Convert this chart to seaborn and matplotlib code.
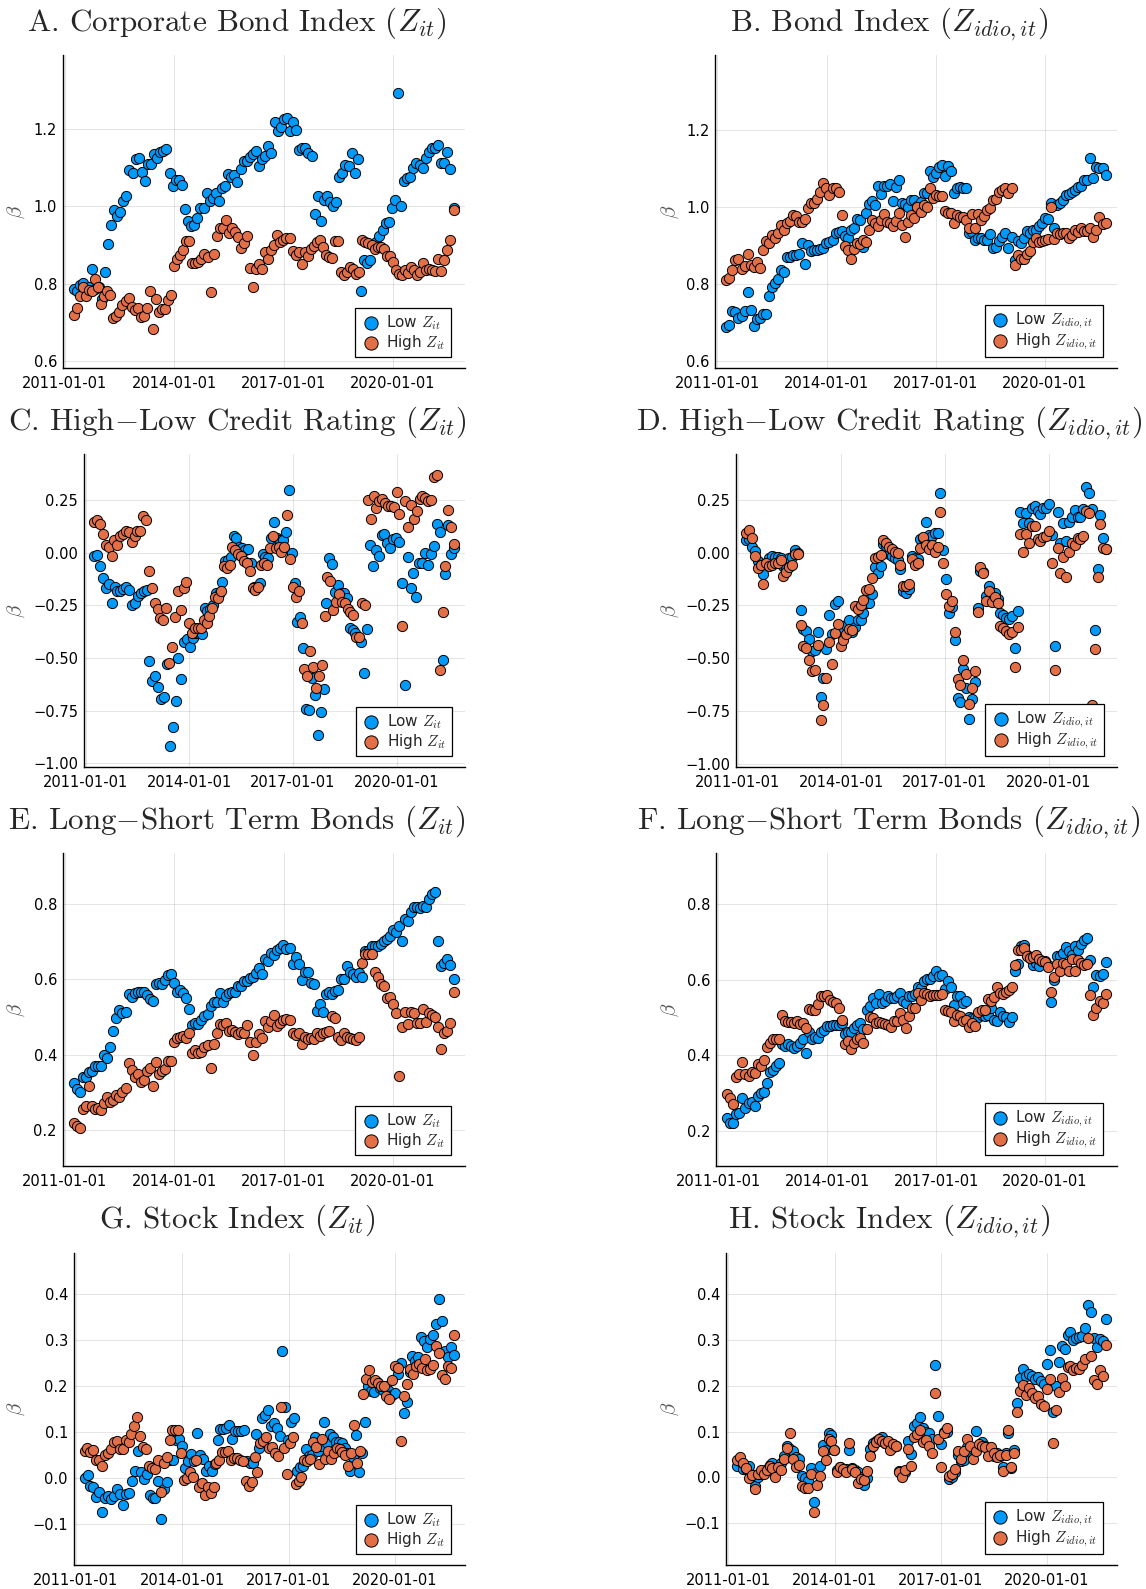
import numpy as np
import pandas as pd
import matplotlib
matplotlib.use("Agg")
import matplotlib.pyplot as plt
import matplotlib.dates as mdates
from matplotlib.ticker import FuncFormatter
import seaborn as sns

sns.set_style("white")
plt.rcParams["font.family"] = ["DejaVu Sans"]
plt.rcParams["mathtext.fontset"] = "cm"

BLUE = "#009AFA"
ORANGE = "#E36F47"
START, END = "2011-04-01", "2021-09-01"

# ---------------- data (beta estimates, monthly) ----------------
a_low = [0.787,0.781,0.796,0.802,0.770,0.791,0.838,0.787,0.791,0.761,
         0.829,0.902,0.953,0.990,0.975,0.986,1.015,1.027,1.094,1.086,
         1.124,1.125,1.089,1.067,1.111,1.110,1.136,1.127,1.142,1.145,
         1.148,1.086,1.054,1.068,1.068,1.055,0.993,0.962,0.950,0.953,
         0.971,0.997,0.997,1.036,1.015,1.021,1.036,1.015,1.047,1.054,
         1.083,1.077,1.082,1.064,1.098,1.117,1.118,1.128,1.136,1.144,
         1.105,1.124,1.132,1.157,1.138,1.219,1.196,1.207,1.227,1.229,
         1.196,1.220,1.198,1.146,1.151,1.151,1.138,1.132,0.980,1.027,
         0.963,1.018,1.027,1.012,1.001,1.012,1.077,1.086,1.107,1.105,
         1.138,1.086,1.122,0.781,0.861,0.854,0.862,0.900,0.908,0.923,
         0.940,0.956,0.960,0.996,1.016,1.294,1.001,1.067,1.075,1.077,
         1.099,1.112,1.107,1.101,1.125,1.142,1.153,1.153,1.159,1.113,
         1.114,1.142,1.097,0.995]
a_high = [0.718,0.737,0.767,0.790,0.767,0.783,0.781,0.812,0.791,0.748,
          0.767,0.781,0.771,0.712,0.715,0.726,0.744,0.755,0.763,0.739,
          0.731,0.737,0.713,0.717,0.737,0.781,0.681,0.761,0.726,0.735,
          0.735,0.757,0.770,0.845,0.865,0.875,0.886,0.910,0.910,0.854,
          0.854,0.855,0.865,0.878,0.869,0.777,0.878,0.923,0.943,0.943,
          0.966,0.932,0.943,0.934,0.921,0.893,0.904,0.923,0.840,0.790,
          0.838,0.850,0.838,0.881,0.863,0.887,0.900,0.926,0.908,0.914,
          0.917,0.919,0.884,0.875,0.882,0.850,0.882,0.872,0.891,0.897,
          0.908,0.913,0.895,0.874,0.868,0.867,0.911,0.911,0.830,0.822,
          0.830,0.843,0.838,0.826,0.830,0.913,0.907,0.906,0.900,0.891,
          0.894,0.894,0.891,0.871,0.871,0.856,0.836,0.826,0.822,0.835,
          0.828,0.843,0.836,0.822,0.830,0.854,0.835,0.838,0.835,0.832,
          0.865,0.833,0.861,0.888,0.913,0.990]

b_low = [0.688,0.694,0.730,0.727,0.713,0.716,0.730,0.778,0.733,0.690,
         0.710,0.712,0.721,0.723,0.768,0.792,0.803,0.814,0.835,0.831,
         0.870,0.870,0.874,0.876,0.879,0.907,0.853,0.902,0.885,0.887,
         0.887,0.892,0.894,0.907,0.909,0.913,0.931,0.935,0.938,0.924,
         0.920,0.939,0.946,0.968,0.965,0.896,0.985,1.007,1.015,1.006,
         1.055,1.033,1.055,1.054,1.059,1.016,1.051,1.069,1.009,1.007,
         1.000,1.019,1.019,1.003,1.013,1.036,1.035,1.093,1.078,1.088,
         1.104,1.108,1.081,1.106,1.094,1.035,1.050,1.052,1.048,1.049,
         0.932,0.935,0.915,0.918,0.920,0.915,0.913,0.929,0.894,0.896,
         0.911,0.922,0.933,0.894,0.922,0.861,0.911,0.907,0.920,0.938,
         0.932,0.939,0.939,0.951,0.958,0.971,0.968,1.009,0.945,1.004,
         1.010,1.019,1.032,1.033,1.039,1.043,1.052,1.055,1.071,1.069,
         1.126,1.076,1.104,1.101,1.100,1.082]
b_high = [0.810,0.816,0.835,0.861,0.866,0.840,0.847,0.879,0.848,0.844,
          0.857,0.842,0.887,0.911,0.906,0.928,0.918,0.931,0.952,0.939,
          0.958,0.963,0.978,0.976,0.961,0.961,0.968,0.996,1.009,1.010,
          1.021,1.039,1.061,1.048,1.030,1.049,1.050,1.039,0.978,0.898,
          0.887,0.866,0.892,0.906,0.903,0.913,0.909,0.941,0.965,0.958,
          0.950,0.965,0.981,0.961,0.957,0.951,0.963,0.985,0.952,0.922,
          0.961,0.978,0.970,1.000,0.986,1.004,1.000,1.049,1.022,1.032,
          1.028,1.029,0.990,0.984,0.983,0.957,0.978,0.974,0.974,0.967,
          0.944,0.981,0.945,0.981,0.965,0.976,0.991,0.996,1.019,1.021,
          1.039,1.043,1.048,1.036,1.049,0.850,0.874,0.864,0.866,0.879,
          0.886,0.909,0.920,0.909,0.911,0.913,0.916,1.000,0.916,0.931,
          0.929,0.931,0.932,0.920,0.928,0.941,0.935,0.946,0.937,0.937,
          0.946,0.922,0.939,0.974,0.955,0.957]

c_low = [-0.013,-0.010,-0.062,-0.118,-0.165,-0.148,-0.240,-0.160,-0.179,-0.179,
         -0.172,-0.160,-0.176,-0.248,-0.240,-0.203,-0.192,-0.179,-0.176,-0.515,
         -0.608,-0.585,-0.637,-0.697,-0.685,-0.529,-0.918,-0.828,-0.705,-0.502,
         -0.602,-0.423,-0.410,-0.446,-0.407,-0.383,-0.383,-0.388,-0.264,-0.276,
         -0.265,-0.248,-0.192,-0.197,-0.137,-0.037,-0.033,-0.021,0.078,0.070,
         0.030,0.022,0.014,0.017,-0.049,-0.160,-0.160,-0.145,-0.005,-0.022,
         -0.025,0.070,0.149,0.070,0.062,0.062,0.098,0.297,-0.002,-0.145,
         -0.327,-0.303,-0.454,-0.740,-0.745,-0.597,-0.677,-0.864,-0.756,-0.645,
         -0.240,-0.025,-0.052,-0.187,-0.152,-0.192,-0.192,-0.216,-0.359,-0.367,
         -0.383,-0.399,-0.423,-0.573,-0.364,0.038,-0.062,0.014,-0.017,0.086,
         0.091,0.046,0.022,0.065,0.070,0.052,-0.145,-0.626,-0.022,-0.168,
         -0.097,-0.208,-0.049,-0.046,-0.002,-0.057,-0.006,0.033,0.138,0.098,
         -0.507,-0.102,0.133,-0.005,0.022]
c_high = [0.149,0.157,0.137,0.089,0.038,0.027,-0.017,0.059,0.038,0.078,
          0.089,0.102,0.097,0.054,0.078,0.106,0.106,0.173,0.157,-0.084,
          -0.168,-0.240,-0.268,-0.308,-0.319,-0.264,-0.523,-0.446,-0.303,-0.181,
          -0.272,-0.165,-0.140,-0.332,-0.383,-0.359,-0.359,-0.359,-0.319,-0.335,
          -0.300,-0.260,-0.208,-0.214,-0.179,-0.062,-0.073,-0.057,0.027,0.014,
          -0.006,-0.017,-0.041,-0.046,-0.084,-0.165,-0.176,-0.164,-0.057,-0.049,
          -0.057,0.025,0.078,0.022,0.030,0.006,0.027,0.178,-0.030,-0.160,
          -0.211,-0.181,-0.335,-0.554,-0.586,-0.465,-0.542,-0.643,-0.586,-0.534,
          -0.299,-0.116,-0.135,-0.272,-0.232,-0.195,-0.232,-0.237,-0.268,-0.283,
          -0.295,-0.402,-0.402,-0.240,-0.248,0.249,0.162,0.268,0.213,0.245,
          0.257,0.237,0.221,0.221,0.216,0.287,0.186,-0.348,0.245,0.122,
          0.229,0.162,0.197,0.257,0.272,0.260,0.245,0.253,0.361,0.370,
          -0.557,-0.283,-0.062,0.202,0.122,0.041]

d_low = [0.060,0.063,0.029,0.008,-0.040,-0.059,-0.103,-0.048,-0.024,-0.016,
         -0.019,-0.019,-0.027,-0.063,-0.071,-0.027,-0.019,0.013,0.000,-0.273,
         -0.362,-0.373,-0.408,-0.465,-0.463,-0.378,-0.686,-0.592,-0.457,-0.294,
         -0.384,-0.241,-0.230,-0.373,-0.368,-0.341,-0.317,-0.378,-0.354,-0.317,
         -0.317,-0.286,-0.238,-0.238,-0.194,-0.067,-0.095,-0.063,0.040,0.032,
         -0.008,-0.016,-0.024,-0.035,-0.079,-0.183,-0.190,-0.171,-0.016,-0.024,
         -0.029,0.067,0.071,0.146,0.083,0.079,0.092,0.092,0.281,0.011,
         -0.124,-0.286,-0.257,-0.416,-0.690,-0.706,-0.552,-0.643,-0.790,-0.695,
         -0.614,-0.262,-0.087,-0.092,-0.206,-0.159,-0.206,-0.190,-0.219,-0.286,
         -0.294,-0.310,-0.313,-0.302,-0.452,-0.275,0.194,0.143,0.190,0.140,
         0.210,0.222,0.198,0.183,0.211,0.214,0.233,0.083,-0.444,0.194,
         0.048,0.143,0.056,0.146,0.171,0.202,0.167,0.171,0.206,0.310,
         0.281,0.206,-0.368,-0.075,0.178,0.068,0.016]
d_high = [0.095,0.108,0.071,-0.016,-0.071,-0.059,-0.146,-0.051,-0.063,-0.060,
          -0.051,-0.048,-0.035,-0.111,-0.092,-0.067,-0.060,-0.008,-0.008,-0.341,
          -0.444,-0.452,-0.511,-0.563,-0.556,-0.437,-0.794,-0.722,-0.595,-0.425,
          -0.529,-0.381,-0.338,-0.440,-0.413,-0.384,-0.360,-0.368,-0.251,-0.267,
          -0.246,-0.225,-0.175,-0.170,-0.119,-0.027,-0.019,-0.013,0.060,0.048,
          0.029,0.016,0.003,0.000,-0.059,-0.159,-0.156,-0.146,-0.029,-0.056,
          -0.051,0.024,0.076,0.035,0.019,0.035,0.005,0.029,0.194,-0.051,
          -0.194,-0.251,-0.230,-0.376,-0.600,-0.627,-0.511,-0.576,-0.717,-0.643,
          -0.559,-0.283,-0.067,-0.095,-0.230,-0.183,-0.235,-0.210,-0.238,-0.349,
          -0.357,-0.373,-0.386,-0.378,-0.540,-0.352,0.090,0.003,0.087,0.048,
          0.127,0.127,0.063,0.056,0.075,0.079,0.103,-0.051,-0.556,0.024,
          -0.095,-0.019,-0.114,0.005,0.048,0.035,0.071,0.063,0.079,0.198,
          0.187,-0.722,-0.457,-0.116,0.138,0.024,0.016]

e_low = [0.325,0.309,0.301,0.340,0.342,0.354,0.358,0.371,0.369,0.370,
         0.400,0.391,0.420,0.463,0.497,0.519,0.510,0.512,0.560,0.554,
         0.563,0.567,0.566,0.566,0.558,0.547,0.543,0.588,0.589,0.588,
         0.598,0.611,0.613,0.591,0.567,0.572,0.563,0.550,0.521,0.479,
         0.483,0.481,0.492,0.503,0.508,0.529,0.539,0.539,0.563,0.539,
         0.556,0.563,0.565,0.565,0.581,0.581,0.594,0.596,0.603,0.607,
         0.616,0.629,0.613,0.654,0.649,0.669,0.664,0.678,0.682,0.691,
         0.679,0.682,0.640,0.658,0.641,0.598,0.618,0.618,0.591,0.588,
         0.517,0.534,0.512,0.561,0.566,0.560,0.570,0.572,0.600,0.601,
         0.635,0.618,0.613,0.605,0.616,0.607,0.675,0.675,0.687,0.688,
         0.687,0.694,0.702,0.707,0.713,0.729,0.726,0.740,0.702,0.760,
         0.753,0.779,0.790,0.791,0.788,0.794,0.792,0.812,0.825,0.832,
         0.702,0.635,0.644,0.654,0.638,0.600]
e_high = [0.220,0.212,0.205,0.256,0.263,0.316,0.263,0.256,0.260,0.254,
          0.272,0.287,0.274,0.280,0.294,0.289,0.301,0.311,0.379,0.360,
          0.342,0.348,0.329,0.332,0.357,0.366,0.316,0.380,0.348,0.357,
          0.362,0.384,0.384,0.433,0.443,0.448,0.450,0.445,0.457,0.404,
          0.413,0.404,0.408,0.420,0.426,0.364,0.429,0.457,0.482,0.479,
          0.485,0.464,0.466,0.461,0.455,0.459,0.457,0.479,0.433,0.400,
          0.435,0.454,0.445,0.490,0.473,0.488,0.504,0.475,0.485,0.491,
          0.495,0.492,0.457,0.453,0.457,0.428,0.446,0.441,0.445,0.441,
          0.457,0.450,0.457,0.461,0.464,0.503,0.498,0.446,0.439,0.457,
          0.448,0.445,0.441,0.439,0.448,0.642,0.666,0.666,0.666,0.618,
          0.607,0.587,0.583,0.550,0.554,0.534,0.510,0.345,0.473,0.514,
          0.481,0.512,0.510,0.483,0.483,0.521,0.486,0.510,0.506,0.501,
          0.473,0.415,0.457,0.463,0.483,0.567]

f_low = [0.234,0.221,0.221,0.245,0.247,0.287,0.262,0.274,0.278,0.267,
         0.294,0.300,0.303,0.327,0.357,0.362,0.371,0.379,0.431,0.424,
         0.431,0.424,0.419,0.425,0.434,0.443,0.406,0.461,0.443,0.448,
         0.447,0.463,0.468,0.479,0.478,0.481,0.481,0.481,0.485,0.457,
         0.461,0.463,0.472,0.481,0.485,0.469,0.521,0.532,0.551,0.538,
         0.563,0.538,0.545,0.556,0.551,0.551,0.558,0.566,0.543,0.538,
         0.558,0.556,0.563,0.582,0.578,0.598,0.602,0.602,0.609,0.624,
         0.609,0.613,0.576,0.596,0.582,0.534,0.558,0.556,0.538,0.543,
         0.503,0.500,0.499,0.503,0.507,0.505,0.507,0.525,0.494,0.490,
         0.514,0.505,0.503,0.488,0.503,0.624,0.641,0.690,0.693,0.666,
         0.657,0.640,0.644,0.637,0.649,0.649,0.640,0.541,0.600,0.664,
         0.662,0.671,0.686,0.675,0.666,0.688,0.679,0.695,0.706,0.710,
         0.651,0.582,0.613,0.609,0.616,0.646]
f_high = [0.298,0.287,0.272,0.344,0.350,0.384,0.350,0.346,0.356,0.353,
          0.378,0.372,0.388,0.422,0.434,0.443,0.444,0.444,0.507,0.492,
          0.488,0.488,0.485,0.490,0.483,0.487,0.472,0.522,0.521,0.521,
          0.536,0.558,0.558,0.560,0.547,0.540,0.538,0.525,0.494,0.431,
          0.437,0.416,0.434,0.443,0.447,0.432,0.469,0.503,0.500,0.487,
          0.488,0.485,0.483,0.481,0.475,0.490,0.490,0.512,0.494,0.472,
          0.505,0.525,0.525,0.565,0.547,0.565,0.563,0.556,0.560,0.560,
          0.560,0.563,0.521,0.518,0.514,0.490,0.507,0.505,0.490,0.494,
          0.476,0.487,0.479,0.516,0.521,0.521,0.549,0.544,0.554,0.582,
          0.565,0.562,0.569,0.574,0.580,0.640,0.678,0.678,0.684,0.662,
          0.657,0.660,0.666,0.655,0.650,0.646,0.634,0.569,0.607,0.642,
          0.624,0.644,0.641,0.624,0.655,0.624,0.651,0.644,0.640,0.641,
          0.559,0.507,0.525,0.544,0.538,0.562]

g_low = [0.000,0.007,-0.017,-0.020,-0.042,-0.031,-0.075,-0.043,-0.039,-0.046,
         -0.039,-0.025,-0.035,-0.059,-0.035,-0.033,-0.006,0.015,0.059,0.012,
         -0.002,0.008,-0.037,-0.044,-0.044,-0.006,-0.090,-0.025,-0.008,0.038,
         0.039,0.083,0.085,0.070,0.021,0.036,0.051,0.036,0.097,0.050,
         0.041,0.014,0.025,0.014,0.030,0.083,0.106,0.106,0.108,0.115,
         0.084,0.101,0.101,0.101,0.103,0.036,0.032,0.033,0.096,0.064,
         0.130,0.136,0.148,0.112,0.120,0.109,0.091,0.275,0.154,0.083,
         0.122,0.131,0.016,0.023,0.026,0.063,0.048,0.050,0.088,0.059,
         0.070,0.122,0.075,0.096,0.088,0.078,0.077,0.075,0.064,0.054,
         0.016,0.046,0.093,0.012,0.054,0.122,0.200,0.188,0.186,0.209,
         0.195,0.191,0.199,0.189,0.180,0.184,0.226,0.249,0.141,0.164,
         0.230,0.264,0.253,0.262,0.305,0.298,0.284,0.301,0.311,0.333,
         0.389,0.341,0.275,0.262,0.284,0.267]
g_high = [0.059,0.064,0.057,0.061,0.039,0.039,0.025,0.050,0.054,0.062,
          0.077,0.079,0.062,0.062,0.083,0.077,0.096,0.112,0.133,0.090,
          0.067,0.062,0.026,0.022,0.019,0.039,-0.030,0.033,0.045,0.083,
          0.103,0.103,0.103,0.054,-0.004,-0.001,0.012,0.001,0.039,-0.019,
          -0.012,-0.038,-0.019,-0.033,-0.019,0.033,0.039,0.057,0.057,0.059,
          0.039,0.043,0.043,0.039,0.036,-0.006,-0.017,-0.008,0.046,0.012,
          0.075,0.079,0.088,0.064,0.068,0.054,0.048,0.154,0.064,0.009,
          0.075,0.088,-0.014,-0.007,0.001,0.039,0.036,0.041,0.077,0.068,
          0.030,0.084,0.041,0.059,0.041,0.054,0.064,0.063,0.056,0.050,
          0.025,0.055,0.115,0.032,0.059,0.183,0.214,0.235,0.209,0.213,
          0.207,0.199,0.200,0.177,0.171,0.213,0.242,0.238,0.080,0.177,
          0.204,0.236,0.225,0.243,0.248,0.238,0.257,0.235,0.236,0.246,
          0.286,0.272,0.224,0.214,0.243,0.238,0.309]

h_low = [0.025,0.036,0.018,0.018,0.025,0.006,-0.018,0.002,0.007,0.011,
         0.018,0.027,0.031,0.007,0.020,0.031,0.047,0.069,0.063,0.057,
         0.044,0.041,0.004,-0.002,-0.007,0.020,-0.053,0.011,0.025,0.070,
         0.060,0.098,0.092,0.060,0.017,0.022,0.017,0.018,0.060,0.020,
         0.016,0.011,0.002,-0.017,-0.002,0.063,0.075,0.080,0.083,0.089,
         0.075,0.073,0.075,0.067,0.069,0.015,0.011,0.011,0.080,0.051,
         0.112,0.118,0.133,0.107,0.099,0.097,0.085,0.245,0.134,0.073,
         0.099,0.099,-0.004,0.002,0.011,0.049,0.036,0.038,0.067,0.058,
         0.062,0.102,0.069,0.078,0.069,0.062,0.054,0.046,0.054,0.046,
         0.023,0.054,0.098,0.020,0.060,0.163,0.218,0.236,0.221,0.225,
         0.221,0.216,0.219,0.210,0.205,0.247,0.278,0.142,0.200,0.252,
         0.288,0.281,0.312,0.317,0.301,0.305,0.306,0.308,0.327,0.377,
         0.361,0.304,0.285,0.303,0.298,0.345]
h_high = [0.038,0.044,0.031,0.020,-0.002,0.005,-0.025,0.007,0.016,0.007,
          0.017,0.025,0.020,0.000,0.022,0.017,0.040,0.064,0.097,0.041,
          0.022,0.027,-0.018,-0.022,-0.022,0.007,-0.076,-0.017,0.004,0.058,
          0.038,0.083,0.080,0.060,0.011,0.022,0.018,0.011,0.076,0.018,
          0.012,-0.011,-0.004,-0.005,0.015,0.047,0.069,0.078,0.083,0.080,
          0.076,0.080,0.060,0.074,0.069,0.011,0.002,0.017,0.062,0.024,
          0.089,0.096,0.103,0.078,0.081,0.069,0.054,0.184,0.083,0.022,
          0.098,0.109,0.004,0.007,0.018,0.057,0.040,0.057,0.083,0.069,
          0.041,0.058,0.074,0.069,0.067,0.047,0.067,0.054,0.045,0.049,
          0.015,0.049,0.104,0.022,0.054,0.143,0.189,0.201,0.181,0.196,
          0.185,0.174,0.178,0.160,0.155,0.194,0.216,0.076,0.147,0.186,
          0.218,0.200,0.242,0.243,0.234,0.239,0.236,0.245,0.259,0.305,
          0.266,0.213,0.205,0.234,0.221,0.290]

x_ticks = ["2011-01-01", "2014-01-01", "2017-01-01", "2020-01-01"]

# ---------------- layout (figure pixels) ----------------
W, H = 1146, 1589
fig = plt.figure(figsize=(W / 100, H / 100), dpi=100)

def rect(l, r, t, b):
    return [l / W, 1 - b / H, (r - l) / W, (b - t) / H]

def fmt_factory(d):
    def f(v, pos):
        s = f"{v:.{d}f}"
        return s.replace("-", "\u2212")
    return f

lbl_it = ("Low $Z_{it}$", "High $Z_{it}$")
lbl_id = ("Low $Z_{idio,it}$", "High $Z_{idio,it}$")

panels = [
    (r"A. Corporate Bond Index ($Z_{it}$)", a_low, a_high, lbl_it,
     (0.581, 1.393), [0.6, 0.8, 1.0, 1.2], 1, (62.5, 465, 55, 368), 0, 31),
    (r"B. Bond Index ($Z_{idio,it}$)", b_low, b_high, lbl_id,
     (0.582, 1.394), [0.6, 0.8, 1.0, 1.2], 1, (715, 1117, 55, 368), 1, 31),
    (r"C. High$-$Low Credit Rating ($Z_{it}$)", c_low, c_high, lbl_it,
     (-1.018, 0.470), [-1.0, -0.75, -0.5, -0.25, 0.0, 0.25], 2, (83.5, 465, 454, 767), 0, 430),
    (r"D. High$-$Low Credit Rating ($Z_{idio,it}$)", d_low, d_high, lbl_id,
     (-1.016, 0.468), [-1.0, -0.75, -0.5, -0.25, 0.0, 0.25], 2, (735.5, 1117, 454, 767), 1, 430),
    (r"E. Long$-$Short Term Bonds ($Z_{it}$)", e_low, e_high, lbl_it,
     (0.1055, 0.934), [0.2, 0.4, 0.6, 0.8], 1, (62.5, 465, 853, 1166), 0, 829),
    (r"F. Long$-$Short Term Bonds ($Z_{idio,it}$)", f_low, f_high, lbl_id,
     (0.108, 0.935), [0.2, 0.4, 0.6, 0.8], 1, (716, 1117, 853, 1166), 1, 829),
    (r"G. Stock Index ($Z_{it}$)", g_low, g_high, lbl_it,
     (-0.189, 0.488), [-0.1, 0.0, 0.1, 0.2, 0.3, 0.4], 1, (73.5, 465, 1253, 1565), 0, 1228),
    (r"H. Stock Index ($Z_{idio,it}$)", h_low, h_high, lbl_id,
     (-0.191, 0.490), [-0.1, 0.0, 0.1, 0.2, 0.3, 0.4], 1, (726, 1117, 1253, 1565), 1, 1228),
]

title_cx = [237, 889]
ylabel_x = [16, 670]

for title, low, high, labels, ylim, yticks, dec, (l, r, t, b), col, ty in panels:
    ax = fig.add_axes(rect(l, r, t, b))
    d_low = pd.date_range(START, END, periods=len(low))
    d_high = pd.date_range(START, END, periods=len(high))
    sns.scatterplot(x=d_low, y=low, color=BLUE, s=54, edgecolor="black",
                    linewidth=0.7, label=labels[0], ax=ax, zorder=3)
    sns.scatterplot(x=d_high, y=high, color=ORANGE, s=54, edgecolor="black",
                    linewidth=0.7, label=labels[1], ax=ax, zorder=4)
    ax.set_xlim(pd.Timestamp("2010-12-08"), pd.Timestamp("2021-12-25"))
    ax.set_ylim(*ylim)
    ax.set_xticks(pd.to_datetime(x_ticks))
    ax.xaxis.set_major_formatter(mdates.DateFormatter("%Y-%m-%d"))
    ax.set_yticks(yticks)
    ax.yaxis.set_major_formatter(FuncFormatter(fmt_factory(dec)))
    ax.grid(True, color="black", alpha=0.1, linewidth=0.8)
    for sp in ("top", "right"):
        ax.spines[sp].set_visible(False)
    for sp in ("left", "bottom"):
        ax.spines[sp].set_color("black")
        ax.spines[sp].set_linewidth(1.0)
    ax.tick_params(axis="both", direction="in", length=4, width=0.8,
                   labelsize=10.5, colors="black")
    ax.tick_params(axis="x", pad=6)
    ax.tick_params(axis="y", pad=4)
    ax.set_xlabel("")
    ax.set_ylabel(r"$\beta$", fontsize=15, color="#555555", rotation=90)
    ax.yaxis.label.set_verticalalignment("center")
    ax.yaxis.set_label_coords((ylabel_x[col] - l) / (r - l), 0.5)
    leg = ax.legend(loc="lower right", bbox_to_anchor=(0.965, 0.035),
                    borderaxespad=0, fancybox=False, edgecolor="black",
                    framealpha=1, fontsize=11, markerscale=1.3,
                    handletextpad=0.35, labelspacing=0.05, borderpad=0.35,
                    handlelength=1.3)
    leg.get_frame().set_linewidth(0.9)
    fig.text(title_cx[col] / W, 1 - ty / H, title, family="cmr10",
             fontsize=22.4, ha="center", va="baseline")

fig.savefig("out.png", dpi=100)
